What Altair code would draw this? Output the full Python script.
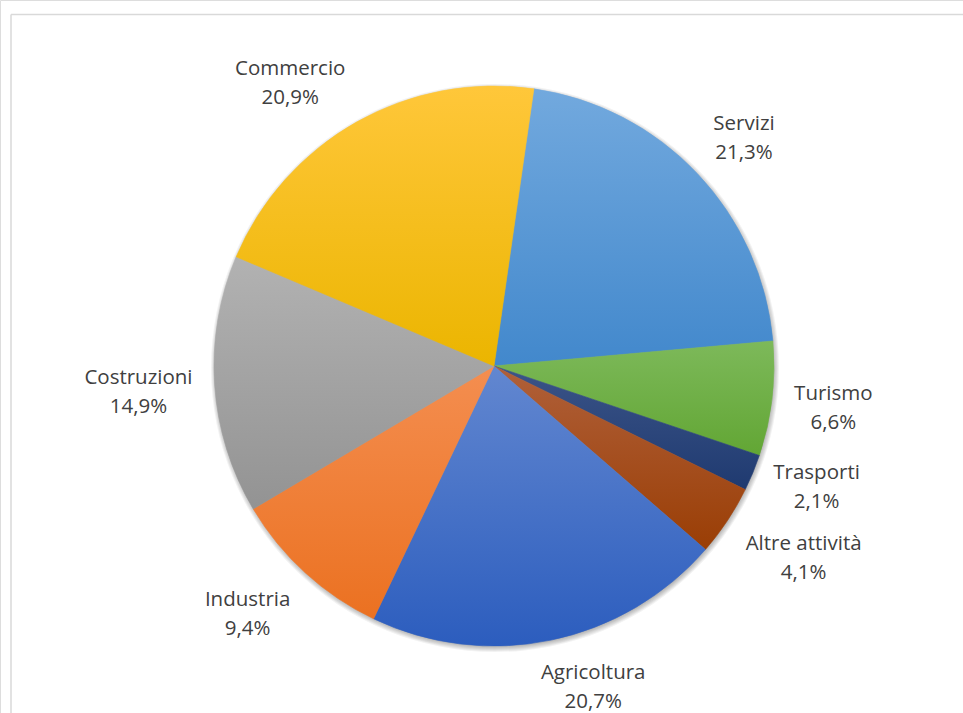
import altair as alt
import pandas as pd

categories = ["Servizi", "Turismo", "Trasporti", "Altre attività",
              "Agricoltura", "Industria", "Costruzioni", "Commercio"]
shares = [21.3, 6.6, 2.1, 4.1, 20.7, 9.4, 14.9, 20.9]
pct_labels = ["21,3%", "6,6%", "2,1%", "4,1%", "20,7%", "9,4%", "14,9%", "20,9%"]

top_colors = ["#72A9DE", "#7DB95A", "#3B5488", "#B0603A",
              "#6287D0", "#F48E50", "#B2B2B2", "#FFC73A"]
bottom_colors = ["#4288CC", "#62A634", "#1F3A70", "#9A3E05",
                 "#2C5DBE", "#EB7121", "#939393", "#EBB500"]

FONT_SIZE = 20.5
# approximate Open Sans advance widths (em) used to size the label boxes
_W = {"a": .556, "b": .613, "c": .479, "d": .613, "e": .561, "f": .336, "g": .548,
      "h": .614, "i": .258, "l": .258, "m": .932, "n": .614, "o": .602, "p": .613,
      "r": .409, "s": .478, "t": .352, "u": .614, "v": .500, "z": .473, "à": .556,
      "A": .633, "C": .632, "I": .279, "S": .549, "T": .556, " ": .260, ",": .245,
      "%": .818}


def text_w(s):
    return sum(_W.get(ch, .572) for ch in s) * FONT_SIZE


df = pd.DataFrame({
    "cat": categories,
    "share": shares,
    "idx": list(range(len(categories))),
    "label": [f"{c}\n{p}" for c, p in zip(categories, pct_labels)],
    "hw": [max(text_w(c), text_w(p)) / 2 for c, p in zip(categories, pct_labels)],
})

CX, CY, R = 494, 366, 280
START = 0.143
TWO_PI = 6.283185307
ANCHOR_R = 302
OY_ABOVE = 26     # label sits above the pie: box bottom at the anchor
OY_BELOW = 19     # label sits below the pie: box top at the anchor


def grad(top, bottom):
    return {"gradient": "linear", "x1": 0, "y1": 0, "x2": 0, "y2": 1,
            "stops": [{"offset": 0, "color": top}, {"offset": 1, "color": bottom}]}


fill_def = {
    "condition": [
        {"test": f"datum.cat === '{c}'", "value": grad(t, b)}
        for c, t, b in zip(categories, top_colors, bottom_colors)
    ],
    "value": "#cccccc",
}

theta_enc = alt.Theta("share:Q", stack=True,
                      scale=alt.Scale(range=[START, START + TWO_PI]))

base = alt.Chart(df)

one = pd.DataFrame({"a": [0]})

# soft shadow around the pie
shadows = [
    alt.Chart(one).mark_arc(color="black", opacity=0.05).encode(
        x=alt.value(CX + 1), y=alt.value(CY + 2),
        theta=alt.value(TWO_PI), radius=alt.value(R - 2 + k),
    )
    for k in range(7)
]

arcs = base.mark_arc(strokeWidth=0.6).encode(
    x=alt.value(CX),
    y=alt.value(CY),
    theta=theta_enc,
    order=alt.Order("idx:Q"),
    radius=alt.value(R),
    fill=fill_def,
    stroke=fill_def,
)

labels = base.transform_window(
    cum="sum(share)", sort=[alt.SortField("idx", order="ascending")]
).transform_joinaggregate(
    total="sum(share)"
).transform_calculate(
    mid=f"{START} + {TWO_PI} * (datum.cum - datum.share / 2) / datum.total"
).transform_calculate(
    ox="clamp(3.5 * sin(datum.mid), -1, 1) * datum.hw",
    oy=f"cos(datum.mid) > 0.5 ? -{OY_ABOVE} : (cos(datum.mid) < -0.5 ? {OY_BELOW} : 0)",
).transform_calculate(
    lx=f"{CX} + {ANCHOR_R} * sin(datum.mid) + datum.ox",
    ly=f"{CY} - {ANCHOR_R} * cos(datum.mid) + datum.oy",
).mark_text(
    font="Open Sans", fontSize=FONT_SIZE, color="#404040",
    align="center", baseline="middle", lineBreak="\n", lineHeight=29, dy=-8,
).encode(
    x=alt.X("lx:Q", scale=None, axis=None),
    y=alt.Y("ly:Q", scale=None, axis=None),
    text="label:N",
)

border_top = alt.Chart(one).mark_rule(color="#D9D9D9", strokeWidth=1.5).encode(
    x=alt.value(11), x2=alt.value(963), y=alt.value(14.5))
border_left = alt.Chart(one).mark_rule(color="#D9D9D9", strokeWidth=1.5).encode(
    x=alt.value(11), y=alt.value(14.5), y2=alt.value(713))

chart = alt.layer(border_top, border_left, *shadows, arcs, labels).properties(
    width=963, height=713,
    autosize=alt.AutoSizeParams(type="none"),
    padding=0,
).configure_view(stroke=None).configure(background="white")

chart.save("out.html", embed_options={"renderer": "svg", "actions": False})
